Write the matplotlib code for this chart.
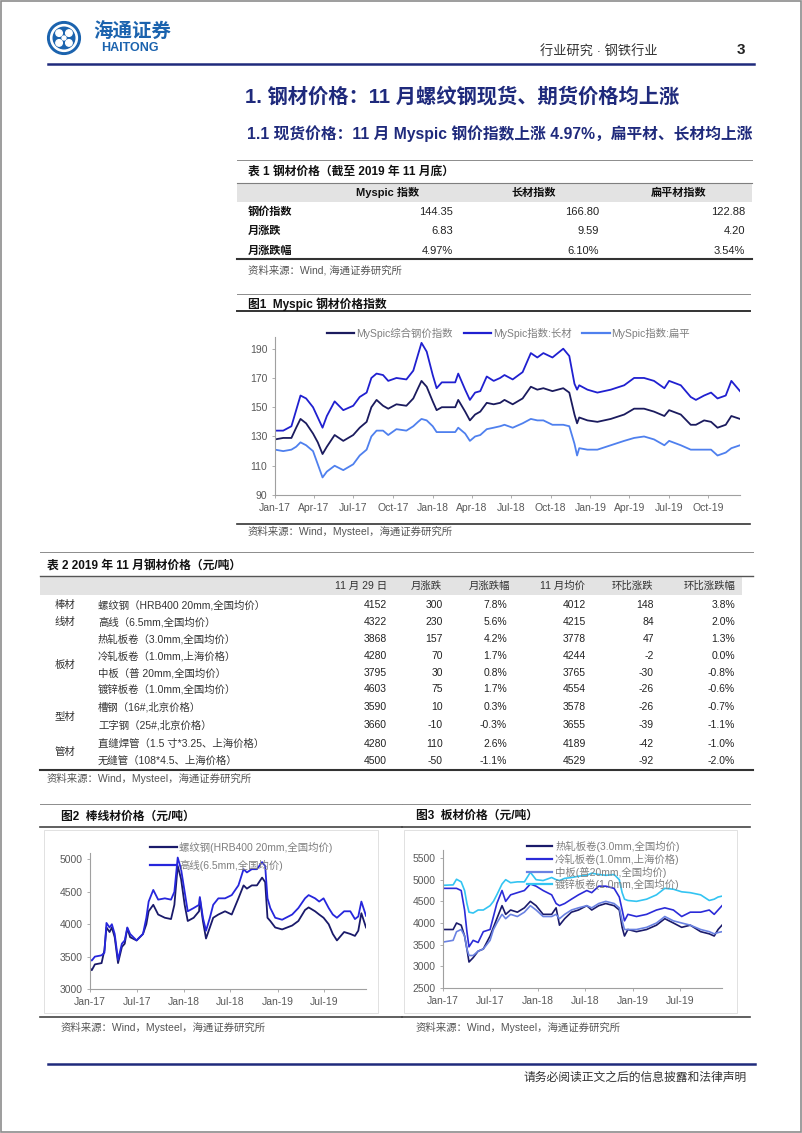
import matplotlib
matplotlib.use('Agg')
import matplotlib.pyplot as plt
import matplotlib.dates as mdates
from matplotlib.lines import Line2D
from matplotlib.patches import Rectangle, Circle
import pandas as pd

plt.rcParams['font.family'] = ['Liberation Sans', 'Noto Sans CJK SC', 'DejaVu Sans']

# ---------------- data ----------------
t1_cols = ['Myspic 指数', '长材指数', '扁平材指数']
t1_rows = ['钢价指数', '月涨跌', '月涨跌幅']
t1_index = ['144.35', '166.80', '122.88']
t1_chg = ['6.83', '9.59', '4.20']
t1_pct = ['4.97%', '6.10%', '3.54%']

t2_head = ['11 月 29 日', '月涨跌', '月涨跌幅', '11 月均价', '环比涨跌', '环比涨跌幅']
t2_groups = ['棒材', '线材', '板材', '型材', '管材']
t2_items = ['螺纹钢（HRB400 20mm,全国均价）', '高线（6.5mm,全国均价）',
            '热轧板卷（3.0mm,全国均价）', '冷轧板卷（1.0mm,上海价格）',
            '中板（普 20mm,全国均价）', '镀锌板卷（1.0mm,全国均价）',
            '槽钢（16#,北京价格）', '工字钢（25#,北京价格）',
            '直缝焊管（1.5 寸*3.25、上海价格）', '无缝管（108*4.5、上海价格）']
t2_price = [4152, 4322, 3868, 4280, 3795, 4603, 3590, 3660, 4280, 4500]
t2_mchg = [300, 230, 157, 70, 30, 75, 10, -10, 110, -50]
t2_mpct = ['7.8%', '5.6%', '4.2%', '1.7%', '0.8%', '1.7%', '0.3%', '-0.3%', '2.6%', '-1.1%']
t2_avg = [4012, 4215, 3778, 4244, 3765, 4554, 3578, 3655, 4189, 4529]
t2_qchg = [148, 84, 47, -2, -30, -26, -26, -39, -42, -92]
t2_qpct = ['3.8%', '2.0%', '1.3%', '0.0%', '-0.8%', '-0.6%', '-0.7%', '-1.1%', '-1.0%', '-2.0%']

# Figure 1: MySpic indices
f1_dates = ['2017-01-01', '2017-01-20', '2017-02-08', '2017-02-19', '2017-03-01', '2017-03-14',
            '2017-03-30', '2017-04-10', '2017-04-21', '2017-05-01', '2017-05-19', '2017-06-08',
            '2017-07-01', '2017-07-16', '2017-08-01', '2017-08-12', '2017-08-24', '2017-09-08',
            '2017-09-20', '2017-10-09', '2017-11-01', '2017-11-17', '2017-11-28', '2017-12-06',
            '2017-12-18', '2018-01-01', '2018-01-10', '2018-01-22', '2018-02-22', '2018-03-01',
            '2018-03-17', '2018-03-28', '2018-04-09', '2018-04-21', '2018-05-06', '2018-05-22',
            '2018-06-06', '2018-06-16', '2018-07-05', '2018-07-28', '2018-08-16', '2018-08-31',
            '2018-09-14', '2018-10-05', '2018-10-30', '2018-11-13', '2018-11-25', '2018-12-01',
            '2018-12-06', '2018-12-25', '2019-01-17', '2019-02-17', '2019-03-20', '2019-04-12',
            '2019-05-05', '2019-05-28', '2019-06-21', '2019-07-02', '2019-07-29', '2019-08-21',
            '2019-09-02', '2019-09-21', '2019-10-07', '2019-10-22', '2019-11-10', '2019-11-23',
            '2019-12-13']
f1_long = [134, 134, 137, 148, 158, 156, 150, 143, 136, 144, 154, 148,
           151, 157, 160, 170, 173, 172, 168, 170, 169, 175, 186, 194,
           188, 172, 163, 167, 167, 173, 162, 155, 160, 161, 171, 168,
           170, 172, 169, 174, 187, 184, 187, 184, 190, 185, 166, 162,
           165, 162, 160, 162, 165, 170, 170, 168, 163, 168, 165, 157,
           155, 158, 160, 156, 158, 168, 161]
f1_comp = [128, 129, 129, 136, 142, 139, 132, 126, 118, 123, 131, 127,
           131, 136, 140, 150, 155, 151, 149, 152, 151, 156, 163, 168,
           164, 154, 148, 150, 150, 155, 147, 141, 145, 147, 153, 152,
           153, 155, 152, 156, 164, 162, 163, 161, 163, 160, 145, 139,
           143, 141, 140, 142, 145, 149, 149, 147, 144, 148, 145, 138,
           138, 141, 140, 136, 138, 144, 142]
f1_flat = [121, 120, 121, 123, 126, 124, 120, 111, 102, 106, 110, 107,
           111, 117, 121, 130, 134, 134, 131, 135, 134, 137, 140, 142,
           141, 137, 133, 133, 133, 136, 132, 127, 130, 131, 135, 136,
           137, 138, 136, 139, 142, 141, 141, 138, 138, 137, 125, 117,
           122, 121, 121, 124, 127, 129, 130, 128, 124, 127, 124, 121,
           121, 121, 121, 117, 119, 122, 124]
f1_names = ['MySpic综合钢价指数', 'MySpic指数:长材', 'MySpic指数:扁平']

# Figure 2: rebar / wire rod
f2_dates = ['2017-01-01', '2017-01-08', '2017-01-20', '2017-02-15', '2017-02-26', '2017-03-06',
            '2017-03-18', '2017-03-27', '2017-04-07', '2017-04-20', '2017-05-05', '2017-05-16',
            '2017-05-26', '2017-06-06', '2017-07-01', '2017-07-26', '2017-08-08', '2017-08-17',
            '2017-09-04', '2017-09-23', '2017-10-19', '2017-11-12', '2017-11-25', '2017-12-08',
            '2017-12-21', '2018-01-04', '2018-01-16', '2018-02-08', '2018-03-01', '2018-03-04',
            '2018-03-16', '2018-03-28', '2018-04-12', '2018-04-25', '2018-05-15', '2018-06-10',
            '2018-07-06', '2018-08-01', '2018-08-21', '2018-09-03', '2018-09-22', '2018-10-12',
            '2018-11-01', '2018-11-13', '2018-11-22', '2018-12-03', '2018-12-22', '2019-01-18',
            '2019-02-26', '2019-03-22', '2019-04-17', '2019-05-01', '2019-05-26', '2019-06-11',
            '2019-06-28', '2019-07-18', '2019-08-03', '2019-08-19', '2019-09-16', '2019-10-10',
            '2019-10-28', '2019-11-10', '2019-11-22', '2019-12-10']
f2_rebar = [3320, 3290, 3380, 3400, 3600, 3950, 3880, 3950, 3800, 3400, 3650, 3700,
            3940, 3800, 3750, 3850, 4000, 4200, 4300, 4150, 4100, 4080, 4300, 4900,
            4700, 4300, 4050, 4100, 4200, 4400, 4050, 3780, 3950, 4100, 4150, 4200,
            4150, 4400, 4600, 4550, 4600, 4600, 4720, 4650, 4100, 4050, 3950, 3920,
            3980, 4050, 4220, 4260, 4200, 4150, 4100, 4000, 3850, 3750, 3880, 3850,
            3820, 3900, 4170, 3950]
f2_wire = [3450, 3440, 3500, 3520, 3560, 4020, 3950, 4000, 3850, 3450, 3700, 3750,
           3950, 3850, 3750, 3850, 4100, 4350, 4530, 4380, 4400, 4380, 4500, 5030,
           4850, 4500, 4200, 4250, 4300, 4420, 4100, 3900, 4100, 4300, 4400, 4400,
           4450, 4600, 4850, 4800, 4850, 4850, 4960, 4900, 4400, 4250, 4100, 4070,
           4150, 4250, 4400, 4450, 4400, 4350, 4400, 4250, 4150, 4100, 4200, 4200,
           4080, 4120, 4350, 4130]
f2_names = ['螺纹钢(HRB400 20mm,全国均价)', '高线(6.5mm,全国均价)']

# Figure 3: flat products
f3_dates = ['2017-01-01', '2017-02-09', '2017-02-22', '2017-03-12', '2017-03-25', '2017-04-03',
            '2017-04-11', '2017-04-27', '2017-05-16', '2017-06-05', '2017-07-01', '2017-07-14',
            '2017-07-27', '2017-08-16', '2017-08-30', '2017-09-18', '2017-10-14', '2017-11-10',
            '2017-12-03', '2017-12-25', '2018-01-21', '2018-02-23', '2018-03-12', '2018-03-25',
            '2018-04-14', '2018-05-10', '2018-06-06', '2018-07-08', '2018-07-27', '2018-08-23',
            '2018-09-19', '2018-10-21', '2018-11-10', '2018-11-21', '2018-11-30', '2018-12-13',
            '2019-01-15', '2019-02-23', '2019-04-02', '2019-05-04', '2019-06-06', '2019-07-08',
            '2019-08-10', '2019-09-19', '2019-10-22', '2019-11-10', '2019-11-25', '2019-12-10']
f3_hrc = [3850, 3850, 4000, 3950, 3700, 3400, 3100, 3200, 3350, 3400, 3700, 3900,
          4100, 4400, 4200, 4300, 4250, 4350, 4500, 4400, 4200, 4200, 4350, 3950,
          4100, 4250, 4300, 4400, 4300, 4400, 4450, 4400, 4300, 3900, 3700, 3850,
          3800, 3850, 3950, 4100, 4000, 3900, 3950, 3800, 3750, 3700, 3850, 3950]
f3_crc = [4800, 4800, 4800, 4750, 4300, 3800, 3450, 3600, 3550, 3800, 3850, 4150,
          4450, 4750, 4500, 4650, 4700, 4750, 4900, 4850, 4750, 4650, 4450, 4400,
          4450, 4550, 4650, 4750, 4700, 4850, 4850, 4800, 4600, 4300, 4050, 4200,
          4150, 4200, 4300, 4350, 4300, 4150, 4250, 4250, 4300, 4200, 4300, 4400]
f3_plate = [3560, 3600, 3800, 3850, 3700, 3400, 3250, 3250, 3350, 3400, 3600, 3850,
            4000, 4200, 4100, 4200, 4150, 4250, 4400, 4300, 4150, 4150, 4200, 4100,
            4200, 4300, 4350, 4400, 4350, 4450, 4500, 4450, 4350, 4050, 3850, 3850,
            3850, 3900, 4000, 4150, 4050, 4000, 3950, 3850, 3800, 3750, 3780, 3800]
f3_galv = [4870, 4880, 5010, 4950, 4750, 4450, 4250, 4230, 4300, 4300, 4400, 4500,
           4650, 4900, 5000, 4930, 4950, 4950, 5170, 5000, 4980, 5050, 5000, 4980,
           5030, 5050, 5080, 5100, 5150, 5120, 5100, 5120, 5000, 4700, 4550, 4520,
           4500, 4550, 4650, 4800, 4780, 4720, 4700, 4650, 4520, 4550, 4600, 4620]
f3_names = ['热轧板卷(3.0mm,全国均价)', '冷轧板卷(1.0mm,上海价格)',
            '中板(普20mm,全国均价)', '镀锌板卷(1.0mm,全国均价)']

# ---------------- page helpers ----------------
W, H = 802, 1133
fig = plt.figure(figsize=(W / 100, H / 100), dpi=100)
NAVY = '#1f2a7c'
GRAY_T = '#595959'


def put(x, y, s, size=8, color='#333333', weight='normal', ha='left', va='center'):
    fig.text(x / W, 1 - y / H, s, fontsize=size, color=color, fontweight=weight, ha=ha, va=va)


def hline(x0, x1, y, color='#8c8c8c', lw=0.7):
    fig.add_artist(Line2D([x0 / W, x1 / W], [1 - y / H, 1 - y / H], color=color, lw=lw,
                          transform=fig.transFigure))


def box(x0, y0, x1, y1, fc='none', ec='none', lw=0.6):
    fig.add_artist(Rectangle((x0 / W, 1 - y1 / H), (x1 - x0) / W, (y1 - y0) / H,
                             transform=fig.transFigure, facecolor=fc, edgecolor=ec, lw=lw))


def axes_px(x0, y0, x1, y1):
    return fig.add_axes([x0 / W, 1 - y1 / H, (x1 - x0) / W, (y1 - y0) / H])


def style(ax):
    for s in ['top', 'right']:
        ax.spines[s].set_visible(False)
    for s in ['left', 'bottom']:
        ax.spines[s].set_color('#a0a0a0')
        ax.spines[s].set_linewidth(0.8)
    ax.tick_params(length=2.5, width=0.6, color='#a0a0a0', pad=3, labelsize=7.5,
                   labelcolor=GRAY_T)
    ax.set_facecolor('none')


def legend_px(items, x0, x1, xt, ys):
    for (name, col), y in zip(items, ys):
        fig.add_artist(Line2D([x0 / W, x1 / W], [1 - y / H, 1 - y / H], color=col, lw=1.6,
                              transform=fig.transFigure))
        put(xt, y, name, size=7.5, color='#7f7f7f')


# page frame
box(0.5, 0.5, W - 1, H - 1, ec='#8c8c8c', lw=1.2)

# ---------------- header ----------------
lg = fig.add_axes([45 / W, 1 - 56 / H, 38 / W, 36 / H])
lg.set_xlim(-1.1, 1.1)
lg.set_ylim(-1.1, 1.1)
lg.set_aspect('equal')
lg.axis('off')
BLUE_L = '#1b63ae'
lg.add_patch(Circle((0, 0), 1.0, color=BLUE_L))
lg.add_patch(Circle((0, 0), 0.82, color='white'))
lg.add_patch(Circle((0, 0), 0.66, color=BLUE_L))
for dx, dy in [(0.3, 0.3), (-0.3, 0.3), (0.3, -0.3), (-0.3, -0.3)]:
    lg.add_patch(Circle((dx, dy), 0.2, color='white'))
lg.add_patch(Circle((0, 0), 0.12, color='white'))
put(93, 32, '海通证券', size=14, color=BLUE_L, weight='bold')
put(101, 48, 'HAITONG', size=9, color=BLUE_L, weight='bold')
put(540, 52, '行业研究 · 钢铁行业', size=9.5, color='#333333')
put(737, 50, '3', size=11, color='#222222', weight='bold')
hline(48, 754, 64, color=NAVY, lw=1.8)

put(245, 97, '1. 钢材价格：11 月螺纹钢现货、期货价格均上涨', size=14.6, color=NAVY, weight='bold')
put(247, 134, '1.1 现货价格：11 月 Myspic 钢价指数上涨 4.97%，扁平材、长材均上涨', size=11.3,
    color=NAVY, weight='bold')

# ---------------- table 1 ----------------
hline(237, 752, 160)
put(248, 172, '表 1 钢材价格（截至 2019 年 11 月底）', size=8.5, color='#111111', weight='bold')
box(237, 183, 752, 202, fc='#e3e3e3')
hline(237, 752, 183, color='#7f7f7f', lw=0.8)
for name, cx in zip(t1_cols, [388, 534, 679]):
    put(cx, 193, name, size=8, color='#111111', weight='bold', ha='center')
t1_vals = [t1_index, t1_chg, t1_pct]
for lab, vals, y in zip(t1_rows, t1_vals, [212, 231, 251]):
    put(248, y, lab, size=8, color='#111111', weight='bold')
    for v, xr in zip(vals, [453, 599, 745]):
        put(xr, y, v, size=8, color='#222222', ha='right')
hline(237, 752, 259, color='#333333', lw=1.5)
put(248, 270, '资料来源：Wind, 海通证券研究所', size=7.5, color='#555555')

# ---------------- figure 1 ----------------
hline(237, 750, 294)
put(248, 304, '图1  Myspic 钢材价格指数', size=8.5, color='#111111', weight='bold')
hline(237, 750, 311, color='#333333', lw=1.4)
ax1 = axes_px(275, 337, 740, 495)
d1 = pd.to_datetime(f1_dates)
c1 = ['#1b1b5e', '#2020d0', '#4f80ee']
for ser, col in zip([f1_comp, f1_long, f1_flat], c1):
    ax1.plot(d1, ser, color=col, lw=1.3)
ax1.set_xlim(pd.Timestamp('2017-01-01'), pd.Timestamp('2019-12-13'))
ax1.set_ylim(90, 198)
ax1.set_yticks(range(90, 191, 20))
ax1.xaxis.set_major_locator(mdates.MonthLocator(bymonth=[1, 4, 7, 10]))
ax1.xaxis.set_major_formatter(mdates.DateFormatter('%b-%y'))
style(ax1)
legend_px([(f1_names[0], c1[0])], 327, 354, 356, [333])
legend_px([(f1_names[1], c1[1])], 464, 491, 493, [333])
legend_px([(f1_names[2], c1[2])], 582, 610, 611, [333])
hline(237, 750, 524, color='#333333', lw=1.2)
put(248, 531, '资料来源：Wind，Mysteel，海通证券研究所', size=7.5, color='#555555')

# ---------------- table 2 ----------------
hline(40, 753, 552)
put(47, 566, '表 2 2019 年 11 月钢材价格（元/吨）', size=8.5, color='#111111', weight='bold')
box(40, 576, 742, 595, fc='#e3e3e3')
hline(40, 753, 576, color='#555555', lw=1.0)
for name, cx in zip(t2_head, [361, 426, 489, 562, 632, 710]):
    put(cx, 586, name, size=7.5, color='#333333', ha='center')
row_y = [605, 622, 639, 656, 673, 689, 707, 725, 744, 761]
for name, y in zip(t2_groups, [605, 622, 665, 717, 752]):
    put(55, y, name, size=7.5, color='#333333')
cols = [t2_price, t2_mchg, t2_mpct, t2_avg, t2_qchg, t2_qpct]
col_r = [387, 443, 507, 586, 654, 735]
for i, y in enumerate(row_y):
    put(98, y, t2_items[i], size=7.5, color='#333333')
    for vals, xr in zip(cols, col_r):
        put(xr, y, str(vals[i]), size=7.5, color='#222222', ha='right')
hline(40, 753, 770, color='#333333', lw=1.5)
put(47, 778, '资料来源：Wind，Mysteel，海通证券研究所', size=7.5, color='#555555')

# ---------------- figure 2 ----------------
hline(40, 402, 804)
put(61, 817, '图2  棒线材价格（元/吨）', size=8.5, color='#111111', weight='bold')
hline(40, 402, 827, color='#444444', lw=1.2)
box(44, 830, 378, 1013, ec='#dcdcdc', lw=0.6)
ax2 = axes_px(90, 853, 366, 989)
d2 = pd.to_datetime(f2_dates)
c2 = ['#1a1a6a', '#2626dc']
for ser, col in zip([f2_rebar, f2_wire], c2):
    ax2.plot(d2, ser, color=col, lw=1.3)
ax2.set_xlim(pd.Timestamp('2017-01-01'), pd.Timestamp('2019-12-10'))
ax2.set_ylim(3000, 5100)
ax2.set_yticks(range(3000, 5001, 500))
ax2.xaxis.set_major_locator(mdates.MonthLocator(bymonth=[1, 7]))
ax2.xaxis.set_major_formatter(mdates.DateFormatter('%b-%y'))
style(ax2)
legend_px(list(zip(f2_names, c2)), 150, 177, 179, [847, 865])
hline(40, 402, 1017, color='#444444', lw=1.2)
put(61, 1027, '资料来源：Wind，Mysteel，海通证券研究所', size=7.5, color='#555555')

# ---------------- figure 3 ----------------
hline(402, 750, 804)
put(416, 816, '图3  板材价格（元/吨）', size=8.5, color='#111111', weight='bold')
hline(402, 750, 827, color='#444444', lw=1.2)
box(404, 830, 737, 1013, ec='#dcdcdc', lw=0.6)
ax3 = axes_px(443, 850, 722, 988)
d3 = pd.to_datetime(f3_dates)
c3 = ['#1a1a6a', '#2b2bd8', '#6a82e2', '#33c4f2']
for ser, col in zip([f3_hrc, f3_crc, f3_plate, f3_galv], c3):
    ax3.plot(d3, ser, color=col, lw=1.2)
ax3.set_xlim(pd.Timestamp('2017-01-01'), pd.Timestamp('2019-12-10'))
ax3.set_ylim(2500, 5685)
ax3.set_yticks(range(2500, 5501, 500))
ax3.xaxis.set_major_locator(mdates.MonthLocator(bymonth=[1, 7]))
ax3.xaxis.set_major_formatter(mdates.DateFormatter('%b-%y'))
style(ax3)
legend_px(list(zip(f3_names, c3)), 527, 552, 555, [846, 859, 872, 884])
hline(402, 750, 1017, color='#444444', lw=1.2)
put(416, 1027, '资料来源：Wind，Mysteel，海通证券研究所', size=7.5, color='#555555')

# ---------------- footer ----------------
hline(48, 755, 1064, color=NAVY, lw=1.8)
put(747, 1078, '请务必阅读正文之后的信息披露和法律声明', size=8.5, color='#333333', ha='right')

fig.savefig('out.png', dpi=100)
